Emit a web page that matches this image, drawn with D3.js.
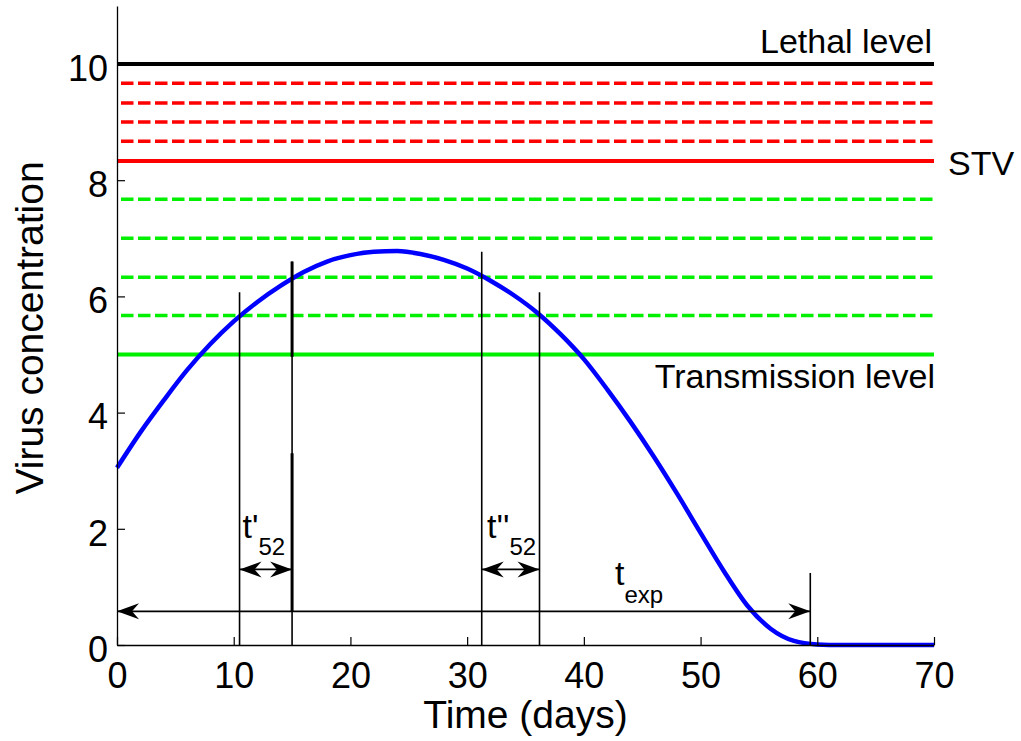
<!DOCTYPE html>
<html>
<head>
<meta charset="utf-8">
<script src="https://cdn.jsdelivr.net/npm/d3@7"></script>
<style>
  body { margin: 0; background: #fff; }
  svg { display: block; font-family: "Liberation Sans", Arial, Helvetica, sans-serif; }
</style>
</head>
<body>
<svg id="chart" width="1021" height="741"></svg>
<script>
// Virus concentration curve
const days = [0, 2, 4, 6, 8, 10, 12, 14, 16, 18, 20, 22, 24, 26, 28, 30, 32, 34, 36, 38,
  40, 42, 44, 46, 48, 50, 52, 54, 56, 58, 60, 62, 66, 70];
const virus = [3.05, 3.66, 4.21, 4.73, 5.18, 5.57, 5.9, 6.18, 6.42, 6.6, 6.71, 6.77, 6.78, 6.73, 6.63, 6.48, 6.27, 6.02, 5.72, 5.35,
  4.92, 4.4, 3.84, 3.24, 2.6, 1.93, 1.27, 0.68, 0.28, 0.07, 0.01, 0, 0, 0];

// Horizontal levels
const lethalLevel = 10;
const stvLevel = 8.33;
const transmissionLevel = 5;
const redDashed = [9.67, 9.33, 9.0, 8.67];
const greenDashed = [7.67, 7.0, 6.33, 5.67];

// Vertical marker lines: time and top value
const markTimes = [10.5, 15.0, 31.25, 36.2, 59.4];
const markTops = [6.07, 6.6, 6.77, 6.07, 1.24];
// Heavier pieces of the t=15 marker
const thickPieces = [[15.0, 6.6, 4.96], [15.0, 3.3, 0.58]];

// Double arrows [from, to, level]
const arrows = [[10.5, 15.0, 1.3], [31.25, 36.2, 1.3], [0, 59.4, 0.58]];

const xTicks = [0, 10, 20, 30, 40, 50, 60, 70];
const yTicks = [0, 2, 4, 6, 8, 10];

const svg = d3.select("#chart");
const x = d3.scaleLinear().domain([0, 70]).range([117, 934]);
const y = d3.scaleLinear().domain([0, 11]).range([645, 5.9]);

// level lines
function hLine(v, color, dashed) {
  svg.append("line")
    .attr("x1", x(0)).attr("x2", x(70))
    .attr("y1", y(v)).attr("y2", y(v))
    .attr("stroke", color)
    .attr("stroke-width", dashed ? 3.5 : 4)
    .attr("stroke-dasharray", dashed ? "12.5 4.5" : null)
    .attr("stroke-dashoffset", dashed ? 13 : null);
}
redDashed.forEach(v => hLine(v, "#ff0000", true));
greenDashed.forEach(v => hLine(v, "#00f000", true));
hLine(lethalLevel, "#000000", false);
hLine(stvLevel, "#ff0000", false);
hLine(transmissionLevel, "#00f000", false);

// curve
const line = d3.line()
  .x((d, i) => x(days[i]))
  .y(d => y(d))
  .curve(d3.curveMonotoneX);
svg.append("path")
  .attr("d", line(virus))
  .attr("fill", "none")
  .attr("stroke", "#0000ff")
  .attr("stroke-width", 4.5);

// marker lines
markTimes.forEach((t, i) => {
  svg.append("line")
    .attr("x1", x(t)).attr("x2", x(t))
    .attr("y1", y(markTops[i])).attr("y2", y(0))
    .attr("stroke", "#000").attr("stroke-width", 1.6);
});
thickPieces.forEach(p => {
  svg.append("line")
    .attr("x1", x(p[0])).attr("x2", x(p[0]))
    .attr("y1", y(p[1])).attr("y2", y(p[2]))
    .attr("stroke", "#000").attr("stroke-width", 3);
});

// arrows
const head = "M0,0 L-22,-8 L-15,0 L-22,8 Z";
arrows.forEach(a => {
  const x0 = x(a[0]), x1 = x(a[1]), yy = y(a[2]);
  svg.append("line")
    .attr("x1", x0).attr("x2", x1)
    .attr("y1", yy).attr("y2", yy)
    .attr("stroke", "#000").attr("stroke-width", 1.8);
  svg.append("path").attr("d", head)
    .attr("transform", `translate(${x1},${yy})`).attr("fill", "#000");
  svg.append("path").attr("d", head)
    .attr("transform", `translate(${x0},${yy}) rotate(180)`).attr("fill", "#000");
});

// axes
const xAxis = svg.append("g")
  .attr("transform", `translate(0,${y(0)})`)
  .call(d3.axisBottom(x).tickValues(xTicks).tickSizeInner(-8).tickSizeOuter(0).tickPadding(17));
const yAxis = svg.append("g")
  .attr("transform", `translate(${x(0)},0)`)
  .call(d3.axisLeft(y).tickValues(yTicks).tickSizeInner(-8).tickSizeOuter(0).tickPadding(9));
[xAxis, yAxis].forEach(g => {
  g.select(".domain").attr("stroke", "#000").attr("stroke-width", 1.3);
  g.selectAll(".tick line").attr("stroke", "#000").attr("stroke-width", 1.2);
  g.selectAll(".tick text")
    .attr("font-size", 36)
    .attr("font-family", "'Liberation Sans', Arial, sans-serif")
    .attr("fill", "#000");
});
yAxis.selectAll(".tick text").attr("dy", "0.45em");

// axis titles
svg.append("text")
  .attr("x", (x(0) + x(70)) / 2).attr("y", 728)
  .attr("text-anchor", "middle").attr("font-size", 39)
  .text("Time (days)");
svg.append("text")
  .attr("transform", "translate(43,328) rotate(-90)")
  .attr("text-anchor", "middle").attr("font-size", 39)
  .text("Virus concentration");

// level labels
svg.append("text")
  .attr("x", x(70) - 2).attr("y", y(lethalLevel) - 11)
  .attr("text-anchor", "end").attr("font-size", 34)
  .text("Lethal level");
svg.append("text")
  .attr("x", x(70) + 14).attr("y", y(stvLevel) + 14)
  .attr("font-size", 34)
  .text("STV");
svg.append("text")
  .attr("x", x(70) + 1).attr("y", y(transmissionLevel) + 33)
  .attr("text-anchor", "end").attr("font-size", 34)
  .text("Transmission level");

// time labels with subscripts
function subLabel(t, v, main, sub, subShift) {
  const tx = svg.append("text")
    .attr("x", x(t)).attr("y", y(v))
    .attr("font-size", 34);
  tx.append("tspan").text(main);
  tx.append("tspan").attr("font-size", 24).attr("dy", subShift).text(sub);
}
subLabel(10.75, 1.84, "t'", "52", 17);
subLabel(31.7, 1.84, "t''", "52", 17);
subLabel(42.67, 1.03, "t", "exp", 18);
</script>
</body>
</html>
